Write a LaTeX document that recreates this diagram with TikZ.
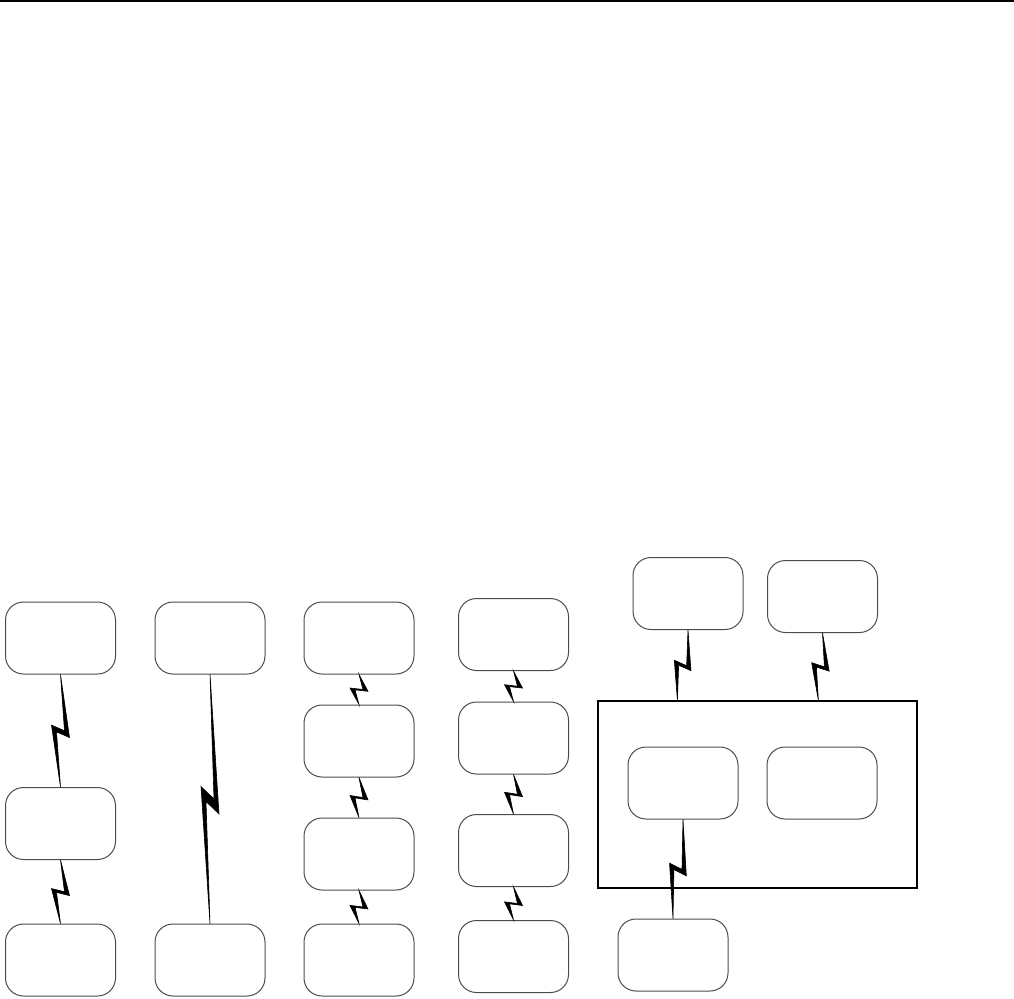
\documentclass[tikz,border=0pt]{standalone}
\usetikzlibrary{calc}

% lightning-bolt link from #1 to #2
\newcommand{\zap}[2]{%
  \filldraw[bolt] (#1)
    -- ($(#1)!0.56!(#2)!4.5pt!90:(#2)$)
    -- ($(#1)!0.51!(#2)!2pt!-90:(#2)$)
    -- (#2)
    -- ($(#1)!0.45!(#2)!4.5pt!-90:(#2)$)
    -- ($(#1)!0.50!(#2)!2pt!90:(#2)$)
    -- cycle;}

\begin{document}
\begin{tikzpicture}[x=0.5pt, y=-0.5pt,
    box/.style={draw=black!70, line width=0.5pt, rounded corners=9pt,
                minimum width=55pt, minimum height=36pt, inner sep=0pt},
    frame/.style={draw, line width=0.7pt, minimum width=159.5pt,
                  minimum height=93.5pt, inner sep=0pt},
    bolt/.style={fill=black, draw=black, line width=0.3pt, line join=miter}
]
    \useasboundingbox (0,0) rectangle (1014,998);
    \draw[line width=1pt] (0,1) -- (1014,1);

    % column 1
    \node[box] (a1) at (60.5,638) {};
    \node[box] (a2) at (60.5,823.5) {};
    \node[box] (a3) at (60.5,960) {};
    \zap{a1.south}{a2.north}
    \zap{a2.south}{a3.north}

    % column 2
    \node[box] (b1) at (210,638) {};
    \node[box] (b2) at (210,960) {};
    \zap{b1.south}{b2.north}

    % column 3
    \node[box] (c1) at (359,638) {};
    \node[box] (c2) at (359,741) {};
    \node[box] (c3) at (359,854) {};
    \node[box] (c4) at (359,960) {};
    \zap{c1.south}{c2.north}
    \zap{c2.south}{c3.north}
    \zap{c3.south}{c4.north}

    % column 4
    \node[box] (d1) at (513.5,634.5) {};
    \node[box] (d2) at (513.5,738) {};
    \node[box] (d3) at (513.5,850.5) {};
    \node[box] (d4) at (513.5,956.5) {};
    \zap{d1.south}{d2.north}
    \zap{d2.south}{d3.north}
    \zap{d3.south}{d4.north}

    % group on the right
    \node[frame] (grp) at (757.5,794.4) {};
    \node[box] (e1) at (688,593.5) {};
    \node[box] (e2) at (822.5,596.5) {};
    \node[box] (f1) at (683,783) {};
    \node[box] (f2) at (822,783) {};
    \node[box] (g) at (673,955) {};
    \coordinate (p1) at ($(grp.north west)!0.25!(grp.north east)$);
    \coordinate (p2) at ($(grp.north west)!0.69!(grp.north east)$);
    \zap{e1.south}{p1}
    \zap{e2.south}{p2}
    \zap{f1.south}{g.north}
\end{tikzpicture}
\end{document}
